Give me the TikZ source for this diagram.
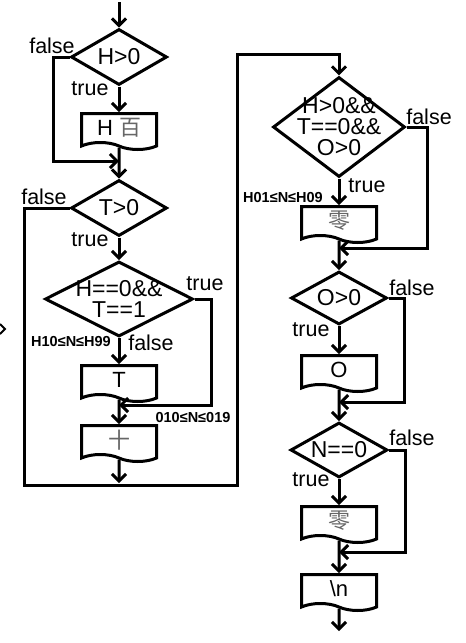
\documentclass[tikz,border=0pt]{standalone}
\usepackage{fontspec}
\setmainfont{Liberation Sans}
\newfontfamily\cjkfont{Noto Sans CJK SC}
\usetikzlibrary{shapes.geometric,shapes.symbols,arrows.meta}

\begin{document}
\begin{tikzpicture}[x=1pt,y=-1pt,line width=3pt,
		>={Straight Barb[length=7pt,width=14pt]},
		condtext/.style={font=\fontsize{23}{21}\selectfont,align=center,inner sep=0pt},
		cond/.style={diamond,draw,inner sep=0pt,label={[condtext]center:#1}},
		outbox/.style={tape,draw,tape bend top=none,tape bend bottom=out and in,tape bend height=7pt,
			minimum width=75pt,minimum height=36pt,inner sep=0pt,font=\fontsize{22}{24}\selectfont},
		lbl/.style={font=\fontsize{21.5}{24}\selectfont,inner sep=0pt},
		rng/.style={font=\fontsize{14.5}{16}\selectfont\bfseries,inner sep=0pt}]
		
		\useasboundingbox (0,0) rectangle (466,643);
		
		% left column
		\coordinate(0) at (119,2);
		\node(1) at (119,57)[cond={H>0},minimum width=96pt,minimum height=56pt]{};
		\node(2) at (119,128)[outbox]{H {\cjkfont\color{black!60}百}};
		\coordinate(3) at (119,161);
		\node(4) at (119,208)[cond={T>0},minimum width=96pt,minimum height=56pt]{};
		\node(5) at (119,299)[cond={H==0\&\&\\T==1},minimum width=148pt,minimum height=75pt]{};
		\node(6) at (119,380)[outbox]{T};
		\coordinate(7) at (119,405);
		\node(8) at (119,440)[outbox]{\cjkfont\color{black!60}十};
		\coordinate(9) at (119,483);
		
		% right column
		\node(11) at (339,127)[cond={H>0\&\&\\T==0\&\&\\O>0},minimum width=132pt,minimum height=100pt]{};
		\node(12) at (339,221)[outbox]{\cjkfont\color{black!60}零};
		\coordinate(13) at (339,248);
		\node(14) at (339,298)[cond={O>0},minimum width=96pt,minimum height=53pt]{};
		\node(15) at (339,370)[outbox]{O};
		\coordinate(16) at (339,402);
		\node(17) at (339,450)[cond={N==0},minimum width=97pt,minimum height=55pt]{};
		\node(18) at (339,521)[outbox]{\cjkfont\color{black!60}零};
		\coordinate(19) at (339,552);
		\node(20) at (339,589)[outbox]{\textbackslash n};
		\coordinate(21) at (339,631);
		
		% branch labels
		\node(l1) at (52,46)[lbl]{false};
		\node(l2) at (90,89)[lbl]{true};
		\node(l3) at (44,197)[lbl]{false};
		\node(l4) at (90,240)[lbl]{true};
		\node(l5) at (205,284)[lbl]{true};
		\node(l6) at (151,343)[lbl]{false};
		\node(l7) at (429,117)[lbl]{false};
		\node(l8) at (367,186)[lbl]{true};
		\node(l9) at (412,288)[lbl]{false};
		\node(l10) at (311,330)[lbl]{true};
		\node(l11) at (412,438)[lbl]{false};
		\node(l12) at (311,480)[lbl]{true};
		\node(r1) at (71,342)[rng]{H10≤N≤H99};
		\node(r2) at (193,418)[rng]{010≤N≤019};
		\node(r3) at (283,198)[rng]{H01≤N≤H09};
		
		\draw[->] (0) -- (1);
		\draw[->] (1) -- (2);
		\draw[->] (2) -- (4);
		\draw[->] (1.west) -- ++(-16,0) |- (3);
		\draw[->] (4) -- (5);
		\draw[->] (5) -- (6);
		\draw[->] (6) -- (8);
		\draw[->] (5.east) -- ++(17,0) |- (7);
		\draw[->] (8) -- (9);
		\draw[->] (4.west) -| (24,485) -| (237,54) -| (11);
		\draw[->] (11) -- (12);
		\draw[->] (12) -- (14);
		\draw[->] (11.east) -- ++(21,0) |- (13);
		\draw[->] (14) -- (15);
		\draw[->] (15) -- (17);
		\draw[->] (14.east) -- ++(16,0) |- (16);
		\draw[->] (17) -- (18);
		\draw[->] (18) -- (20);
		\draw[->] (17.east) -- ++(16,0) |- (19);
		\draw[->] (20) -- (21);
		
		% edge of a cut-off mark
		\draw[line width=2pt] (0,324) -- (5,329) -- (0,334);
		
	\end{tikzpicture}
\end{document}
